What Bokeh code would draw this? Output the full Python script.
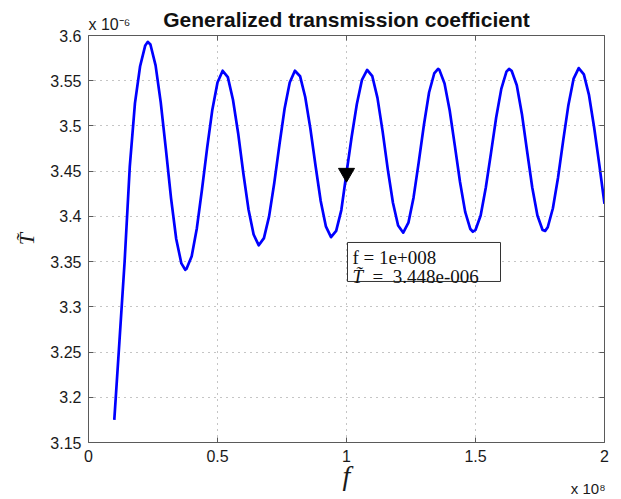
from bokeh.embed import file_html
from bokeh.models import FixedTicker, Label, LinearAxis, Title
from bokeh.plotting import figure
from bokeh.resources import INLINE

# Frequency (x 1e8 Hz) and generalized transmission coefficient (x 1e-6)
f_vals = [
    0.10, 0.12, 0.14, 0.16, 0.18, 0.20, 0.22, 0.23, 0.24, 0.26, 0.28, 0.30,
    0.32, 0.34, 0.36, 0.375, 0.38, 0.40, 0.42, 0.44, 0.46, 0.48, 0.50, 0.52,
    0.54, 0.56, 0.58, 0.60, 0.62, 0.64, 0.66, 0.68, 0.70, 0.72, 0.74, 0.76,
    0.78, 0.80, 0.82, 0.84, 0.86, 0.88, 0.90, 0.92, 0.94, 0.96, 0.98, 1.00,
    1.02, 1.04, 1.06, 1.08, 1.10, 1.12, 1.14, 1.16, 1.18, 1.20, 1.22, 1.24,
    1.26, 1.28, 1.30, 1.32, 1.34, 1.355, 1.36, 1.38, 1.40, 1.42, 1.44, 1.46,
    1.48, 1.49, 1.50, 1.52, 1.54, 1.56, 1.58, 1.60, 1.62, 1.63, 1.64, 1.66,
    1.68, 1.70, 1.72, 1.74, 1.76, 1.77, 1.78, 1.80, 1.82, 1.84, 1.86, 1.88,
    1.90, 1.92, 1.94, 1.96, 1.98, 2.00,
]
T_vals = [
    3.175, 3.262, 3.350, 3.455, 3.525, 3.566, 3.589, 3.593, 3.590, 3.567, 3.526, 3.474,
    3.420, 3.375, 3.348, 3.341, 3.342, 3.356, 3.387, 3.430, 3.476, 3.518, 3.548, 3.561,
    3.554, 3.529, 3.492, 3.448, 3.408, 3.380, 3.368, 3.376, 3.400, 3.437, 3.479, 3.519,
    3.548, 3.561, 3.555, 3.532, 3.497, 3.456, 3.417, 3.389, 3.377, 3.384, 3.407, 3.448,
    3.488, 3.524, 3.551, 3.562, 3.555, 3.531, 3.494, 3.452, 3.415, 3.390, 3.382, 3.393,
    3.421, 3.460, 3.501, 3.537, 3.558, 3.563, 3.562, 3.547, 3.517, 3.478, 3.438, 3.405,
    3.386, 3.383, 3.385, 3.401, 3.432, 3.470, 3.509, 3.541, 3.560, 3.563, 3.561, 3.545,
    3.513, 3.472, 3.432, 3.401, 3.385, 3.384, 3.388, 3.409, 3.443, 3.484, 3.523, 3.552,
    3.564, 3.557, 3.534, 3.498, 3.457, 3.414,
]

# Data tip
tip_f = 1.0
tip_T = 3.448
tip_line1 = "f = 1e+008"
tip_T_sym = "T\u0303"
tip_line2 = "=\u20023.448e-006"

x_ticks = [0, 0.5, 1, 1.5, 2]
x_tick_labels = ["0", "0.5", "1", "1.5", "2"]
y_ticks = [3.15, 3.2, 3.25, 3.3, 3.35, 3.4, 3.45, 3.5, 3.55, 3.6]
y_tick_labels = ["3.15", "3.2", "3.25", "3.3", "3.35", "3.4", "3.45", "3.5", "3.55", "3.6"]

title_text = "Generalized transmission coefficient"
x_label = "f"
y_label = "T\u0303"
x_mult = "x 10\u2078"
y_mult = "x 10\u207b\u2076"

W, H = 621, 499
BL, BR, BT, BB = 88, 17, 35, 57
X0, X1 = 0, 2
Y0, Y1 = 3.15, 3.6

AX_COLOR = "#5a5a5a"
TXT_COLOR = "#1a1a1a"
SANS = "Liberation Sans"
SERIF = "Liberation Serif"

p = figure(
    width=W, height=H, x_range=(X0, X1), y_range=(Y0, Y1), title=None,
    output_backend="svg", toolbar_location=None,
    min_border_left=BL, min_border_right=BR, min_border_top=BT, min_border_bottom=BB,
    background_fill_color="white", border_fill_color="white",
)
p.outline_line_color = None


def style_axis(ax, ticks, labels, show):
    ax.ticker = FixedTicker(ticks=ticks)
    ax.major_label_overrides = {t: (l if show else "") for t, l in zip(ticks, labels)}
    ax.major_tick_in = 5
    ax.major_tick_out = 0
    ax.minor_tick_line_color = None
    ax.axis_line_color = AX_COLOR
    ax.major_tick_line_color = AX_COLOR
    ax.major_label_text_font = SANS
    ax.major_label_text_font_size = "16px" if show else "0px"
    ax.major_label_text_color = TXT_COLOR
    ax.major_label_standoff = 7 if show else 0


xa = p.xaxis[0]
ya = p.yaxis[0]
style_axis(xa, x_ticks, x_tick_labels, True)
style_axis(ya, y_ticks, y_tick_labels, True)

xa.axis_label = x_label
xa.axis_label_text_font = SERIF
xa.axis_label_text_font_style = "italic"
xa.axis_label_text_font_size = "28px"
xa.axis_label_text_color = TXT_COLOR
xa.axis_label_standoff = -5

ya.axis_label = y_label
ya.axis_label_text_font = SERIF
ya.axis_label_text_font_style = "italic"
ya.axis_label_text_font_size = "22px"
ya.axis_label_text_color = TXT_COLOR
ya.axis_label_standoff = 8

right_ax = LinearAxis()
style_axis(right_ax, y_ticks, y_tick_labels, False)
p.add_layout(right_ax, "right")

# top box edge with inward ticks; its blank label reserves room above the frame
top_ax = LinearAxis()
style_axis(top_ax, x_ticks, x_tick_labels, False)
top_ax.axis_label = " "
top_ax.axis_label_text_font_size = "1px"
top_ax.axis_label_standoff = 9
p.add_layout(top_ax, "above")

# exponent of the y axis, drawn in the same row as the title
p.add_layout(Title(text=y_mult, align="left", offset=0, vertical_align="bottom",
                   standoff=-20, text_font=SANS, text_font_size="16px",
                   text_font_style="normal", text_color=TXT_COLOR), "above")

p.add_layout(Title(text=title_text, align="center", vertical_align="bottom",
                   standoff=-16, text_font=SANS, text_font_size="21px",
                   text_font_style="bold", text_color="#111111"), "above")

# exponent of the x axis, bottom right
p.add_layout(Title(text=x_mult, align="right", offset=-1, vertical_align="top",
                   standoff=-28, text_font=SANS, text_font_size="15px",
                   text_font_style="normal", text_color=TXT_COLOR), "below")

for g in (p.xgrid[0], p.ygrid[0]):
    g.grid_line_color = "#8a8a8a"
    g.grid_line_dash = "1 5"
    g.grid_line_width = 1
p.xgrid[0].ticker = FixedTicker(ticks=x_ticks)
p.ygrid[0].ticker = FixedTicker(ticks=y_ticks)

# Curve
p.line(f_vals, T_vals, line_color="#0000ff", line_width=2.7, line_join="round")

# Data tip marker
p.scatter([tip_f], [tip_T], marker="inverted_triangle", size=16,
          fill_color="black", line_color="black")

# Data tip box (pixel offsets from the tip converted to data units)
dx = (X1 - X0) / (W - BL - BR)
dy = (Y1 - Y0) / (H - BT - BB)
box_w, box_h = 153, 39
box_off_x, box_off_y = 1, 69.5
p.rect(x=[tip_f + (box_off_x + box_w / 2) * dx],
       y=[tip_T - (box_off_y + box_h / 2) * dy],
       width=box_w, height=box_h, width_units="screen", height_units="screen",
       fill_color="white", line_color="#333333", line_width=1)

p.add_layout(Label(x=tip_f, y=tip_T, x_offset=6, y_offset=-85, text=tip_line1,
                   text_font=SERIF, text_font_size="19px", text_color="#111111",
                   text_baseline="alphabetic", text_align="left"))
p.add_layout(Label(x=tip_f, y=tip_T, x_offset=6, y_offset=-104, text=tip_T_sym,
                   text_font=SERIF, text_font_style="italic", text_font_size="19px",
                   text_color="#111111", text_baseline="alphabetic", text_align="left"))
p.add_layout(Label(x=tip_f, y=tip_T, x_offset=26, y_offset=-104, text=tip_line2,
                   text_font=SERIF, text_font_size="19px", text_color="#111111",
                   text_baseline="alphabetic", text_align="left"))

open("out.html", "w").write(file_html(p, INLINE))
